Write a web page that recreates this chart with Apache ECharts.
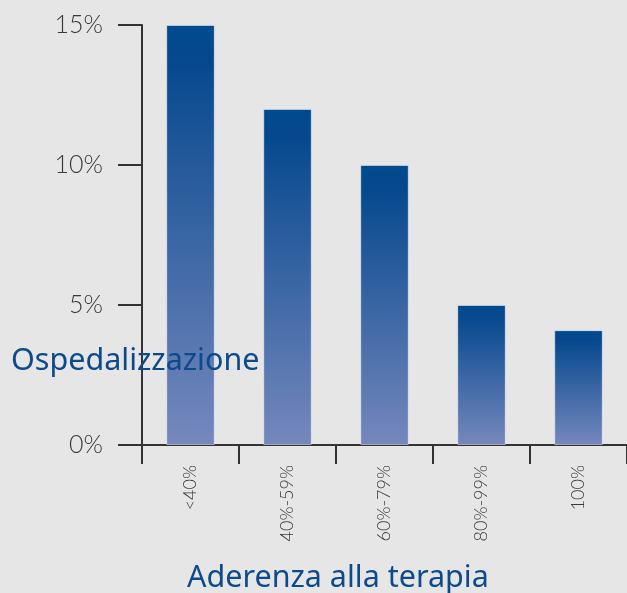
<!DOCTYPE html>
<html><head><meta charset="utf-8">
<script src="https://cdn.jsdelivr.net/npm/echarts@6/dist/echarts.min.js"></script>
<style>html,body{margin:0;padding:0;background:#e6e6e6}#c{width:627px;height:593px}</style>
</head><body><div id="c"></div>
<script>
var categories = ['<40%', '40%-59%', '60%-79%', '80%-99%', '100%'];
var values = [15, 12, 10, 5, 4.1];
var yTicks = [0, 5, 10, 15];
var yTitle = 'Ospedalizzazione';
var xTitle = 'Aderenza alla terapia';

var chart = echarts.init(document.getElementById('c'));
var labelFont = 'Lato, "DejaVu Sans", sans-serif';
var titleFont = '"Noto Sans", "DejaVu Sans", sans-serif';
chart.setOption({
  backgroundColor: '#e6e6e6',
  animation: false,
  grid: { left: 142, top: 25, width: 487, bottom: 148, containLabel: false },
  xAxis: {
    type: 'category', data: categories,
    axisLine: { lineStyle: { color: '#333', width: 2 } },
    axisTick: { show: true, length: 19, alignWithLabel: false, lineStyle: { color: '#333', width: 2 } },
    axisLabel: { rotate: 90, margin: 20, color: '#3a3a3a', fontSize: 18, fontFamily: labelFont, fontWeight: 300 }
  },
  yAxis: {
    type: 'value', min: yTicks[0], max: yTicks[yTicks.length - 1], interval: 5,
    splitLine: { show: false },
    axisLine: { show: true, lineStyle: { color: '#333', width: 2 } },
    axisTick: { show: true, length: 24, lineStyle: { color: '#333', width: 2 } },
    axisLabel: { margin: 39, color: '#3a3a3a', fontSize: 25, fontFamily: labelFont, fontWeight: 300, formatter: '{value}%' }
  },
  title: [
    { text: yTitle, left: 6, top: 341, textStyle: { color: '#0d4a8c', fontSize: 30.5, fontWeight: 'normal', fontFamily: titleFont }, z: 10 },
    { text: xTitle, left: 182, top: 558, textStyle: { color: '#0d4a8c', fontSize: 30.5, fontWeight: 'normal', fontFamily: titleFont } }
  ],
  series: [{
    type: 'bar', data: values, barWidth: '50%', z: 2,
    itemStyle: {
      borderColor: 'rgba(255,255,255,0.45)', borderWidth: 1,
      color: new echarts.graphic.LinearGradient(0, 0, 0, 1, [
        { offset: 0, color: '#004a8e' },
        { offset: 0.08, color: '#05488e' },
        { offset: 1, color: '#7688bd' }
      ])
    }
  }]
});
</script></body></html>
